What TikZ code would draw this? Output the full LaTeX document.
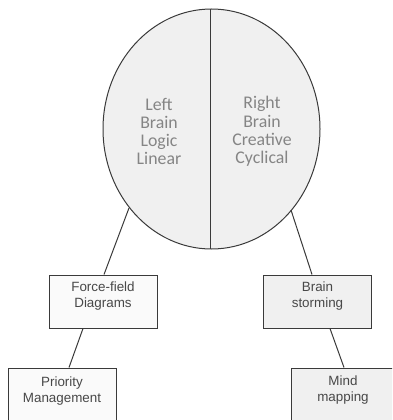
\documentclass[tikz,border=0pt]{standalone}
\usetikzlibrary{shapes.geometric}
\usepackage{fontspec}
\setmainfont{Liberation Sans}
\newfontfamily\brainfont{Carlito}
\definecolor{linec}{HTML}{3A3A3A}
\definecolor{lightfill}{HTML}{FAFAFA}
\definecolor{grayfill}{HTML}{F0F0F0}
\definecolor{brtext}{HTML}{858585}
\definecolor{boxtext}{HTML}{484848}
\begin{document}
\begin{tikzpicture}[x=1pt,y=-1pt,
  conn/.style={draw=linec,line width=1pt},
  boxa/.style={draw=linec,line width=1pt,fill=lightfill,rectangle,minimum width=108pt,minimum height=53pt,inner sep=0pt},
  boxb/.style={boxa,fill=grayfill},
  btext/.style={text=boxtext,font=\fontsize{13.4}{15.5}\selectfont,align=center,inner sep=0pt},
  lobe/.style={text=brtext,font=\brainfont\fontsize{17.8}{18.2}\selectfont,align=center,inner sep=0pt}]
\useasboundingbox (0,0) rectangle (392,420);
\clip (0,0) rectangle (392,420);
% brain
\node[draw=linec,line width=1pt,fill=grayfill,ellipse,minimum width=217pt,minimum height=240pt,inner sep=0pt] (brain) at (211.5,129) {};
\coordinate (btop) at (210.7,9);
\coordinate (bbot) at (210.7,249);
\draw[conn] (btop) -- (bbot);
\node[lobe] (left) at (159,131.5) {Left\\Brain\\Logic\\Linear};
\node[lobe] (right) at (262,131.5) {Right\\Brain\\Creative\\Cyclical};
% boxes
\node[boxa] (ff) at (103,301.5) {};
\node[btext] at (103,296) {Force-field\\Diagrams};
\node[boxb] (bs) at (317.5,301.5) {};
\node[btext] at (317.5,296) {Brain\\storming};
\node[boxa] (pm) at (62,394.5) {};
\node[btext] at (62,391) {Priority\\Management};
\node[boxb] (mm) at (345,394.5) {};
\node[btext] at (343,390) {Mind\\mapping};
% connectors
\coordinate (bl) at (129,208);
\coordinate (br) at (291,210);
\draw[conn] (bl) -- (ff.north -| 104,0);
\draw[conn] (br) -- (bs.north -| 312,0);
\draw[conn] (ff.south -| 83,0) -- (pm.north -| 69,0);
\draw[conn] (bs.south -| 330,0) -- (mm.north -| 344,0);
\end{tikzpicture}
\end{document}
